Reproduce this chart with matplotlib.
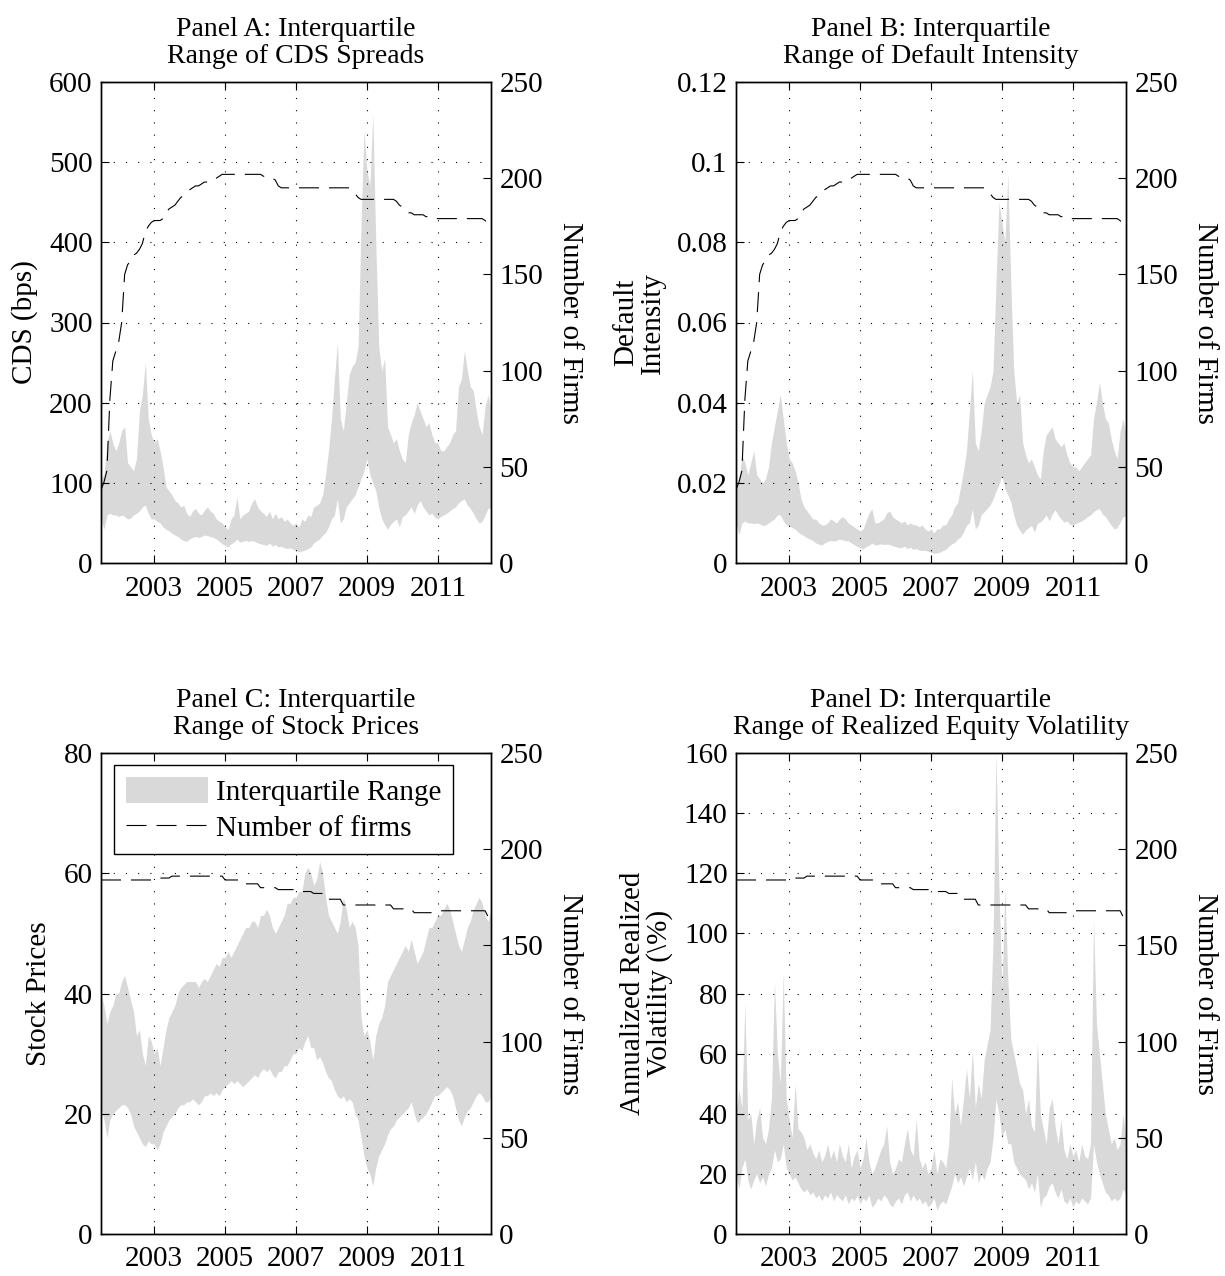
import numpy as np
import matplotlib
matplotlib.use('Agg')
import matplotlib.pyplot as plt

plt.rcParams['font.family'] = ['Liberation Serif', 'DejaVu Serif']
plt.rcParams['font.size'] = 21

# monthly observations, Jul 2001 .. Jul 2012
dates = 2001.5 + np.arange(133) / 12.0

# Panel A: CDS spreads (bps)
cds_q75 = [105, 110, 150, 165, 150, 140,
           150, 165, 170, 125, 120, 115, 130, 190, 210, 250, 180, 160,
           150, 155, 140, 120, 95, 90, 85, 78, 75, 70, 72, 62,
           58, 65, 68, 62, 60, 66, 70, 65, 62, 55, 52, 50,
           45, 42, 55, 60, 82, 55, 60, 62, 65, 75, 80, 70,
           65, 62, 58, 65, 55, 62, 55, 58, 52, 55, 50, 47,
           50, 45, 55, 52, 60, 58, 70, 72, 75, 85, 110, 140,
           180, 230, 275, 180, 165, 200, 235, 245, 250, 270, 420, 540,
           490, 470, 560, 400, 270, 240, 255, 170, 160, 150, 155, 140,
           130, 125, 160, 175, 185, 200, 190, 180, 170, 175, 160, 150,
           150, 140, 140, 145, 150, 160, 165, 220, 230, 265, 240, 220,
           215, 190, 170, 160, 195, 210, 190]
cds_q25 = [55, 42, 60, 62, 60, 60,
           58, 60, 58, 55, 56, 60, 62, 65, 70, 72, 62, 55,
           55, 52, 50, 45, 42, 40, 37, 35, 33, 30, 28, 27,
           30, 32, 33, 32, 33, 35, 34, 33, 32, 30, 27, 24,
           22, 20, 24, 26, 30, 26, 27, 28, 27, 28, 27, 25,
           24, 23, 22, 25, 21, 23, 20, 21, 19, 18, 19, 17,
           16, 14, 15, 16, 18, 20, 25, 28, 30, 35, 38, 45,
           55, 60, 80, 50, 55, 70, 75, 80, 85, 95, 105, 115,
           130, 110, 100, 90, 70, 55, 48, 42, 48, 52, 55, 45,
           58, 60, 65, 70, 62, 72, 78, 70, 65, 60, 62, 57,
           55, 58, 60, 62, 65, 68, 70, 75, 78, 80, 72, 68,
           62, 55, 50, 52, 60, 68, 68]

# Panel B: default intensity
di_q75 = [0.018, 0.020, 0.027, 0.025, 0.022, 0.025,
          0.028, 0.022, 0.021, 0.020, 0.021, 0.024, 0.030, 0.034, 0.038, 0.042, 0.036, 0.030,
          0.026, 0.025, 0.023, 0.020, 0.016, 0.014, 0.013, 0.012, 0.011, 0.011, 0.010, 0.0095,
          0.0095, 0.010, 0.011, 0.0105, 0.010, 0.011, 0.0115, 0.011, 0.010, 0.0095, 0.009, 0.0085,
          0.008, 0.0085, 0.0105, 0.0125, 0.0135, 0.010, 0.010, 0.0105, 0.011, 0.0125, 0.013, 0.0115,
          0.011, 0.0105, 0.010, 0.0105, 0.0095, 0.010, 0.0095, 0.0095, 0.009, 0.0095, 0.0085, 0.008,
          0.0085, 0.0075, 0.0085, 0.0085, 0.0095, 0.0095, 0.011, 0.012, 0.014, 0.015, 0.019, 0.023,
          0.028, 0.038, 0.048, 0.030, 0.028, 0.033, 0.040, 0.042, 0.044, 0.048, 0.070, 0.090,
          0.085, 0.080, 0.097, 0.070, 0.048, 0.040, 0.042, 0.030, 0.027, 0.025, 0.026, 0.024,
          0.022, 0.021, 0.028, 0.032, 0.033, 0.034, 0.031, 0.030, 0.029, 0.030, 0.027, 0.025,
          0.024, 0.024, 0.023, 0.024, 0.025, 0.026, 0.027, 0.036, 0.040, 0.045, 0.040, 0.036,
          0.035, 0.031, 0.028, 0.026, 0.033, 0.036, 0.032]
di_q25 = [0.010, 0.007, 0.010, 0.0105, 0.010, 0.010,
          0.0098, 0.010, 0.0098, 0.0093, 0.0095, 0.010, 0.0105, 0.011, 0.012, 0.012, 0.0105, 0.0095,
          0.0093, 0.0088, 0.0085, 0.0077, 0.0072, 0.0068, 0.0063, 0.006, 0.0056, 0.005, 0.0047, 0.0045,
          0.005, 0.0054, 0.0056, 0.0055, 0.0056, 0.006, 0.0058, 0.0056, 0.0055, 0.005, 0.0046, 0.0041,
          0.0038, 0.0035, 0.0041, 0.0044, 0.005, 0.0045, 0.0046, 0.0048, 0.0046, 0.0047, 0.0046, 0.0043,
          0.0041, 0.0039, 0.0038, 0.0042, 0.0036, 0.0039, 0.0034, 0.0036, 0.0032, 0.0031, 0.0032, 0.0029,
          0.0027, 0.0024, 0.0025, 0.0027, 0.0031, 0.0034, 0.0042, 0.0048, 0.0051, 0.006, 0.0065, 0.0077,
          0.0094, 0.010, 0.0135, 0.0085, 0.0094, 0.012, 0.0128, 0.0136, 0.0145, 0.016, 0.018, 0.0195,
          0.022, 0.0185, 0.017, 0.0153, 0.012, 0.0094, 0.0082, 0.0072, 0.0082, 0.0088, 0.0094, 0.0077,
          0.0099, 0.0102, 0.011, 0.012, 0.0105, 0.0122, 0.0133, 0.012, 0.011, 0.0102, 0.0105, 0.0097,
          0.0094, 0.0099, 0.0102, 0.0105, 0.011, 0.0116, 0.012, 0.0128, 0.0133, 0.0136, 0.0122, 0.0116,
          0.0105, 0.0094, 0.0085, 0.0088, 0.0102, 0.0116, 0.0116]

# Panel C: stock prices
px_q75 = [40, 38, 35, 37, 38, 40,
          40, 42, 43, 41, 39, 37, 33, 34, 30, 28, 33, 32,
          30, 31, 28, 31, 34, 36, 37, 38, 40, 41, 41.5, 42,
          42, 42, 42, 41, 42, 42.5, 42, 43, 44, 45, 44.5, 46,
          46, 47, 46, 47, 48, 49, 50, 51, 51, 52, 52, 51,
          53, 53, 54, 53, 51, 50, 51, 52, 53, 55, 55, 56,
          56, 57, 57, 60, 61, 60, 58, 59, 62, 60, 56, 53,
          52, 51, 50, 52, 56, 54, 51, 52, 51, 48, 36, 33,
          34, 32, 29, 33, 35, 36, 38, 42, 43, 44, 45, 46,
          47, 48, 47, 49, 47, 45, 46, 47, 49, 51, 51, 52,
          53, 53, 54, 55, 54, 52, 50, 48, 47, 49, 51, 52,
          54, 55, 56, 55, 53, 52, 54]
px_q25 = [21, 19, 16, 19, 20, 20.5,
          21, 21.5, 21.5, 21, 20, 18, 17, 16, 15, 14.5, 15.5, 15,
          15, 14, 15, 17, 18, 19, 19.5, 20, 21, 21.5, 21.5, 22,
          22, 22.5, 22, 21.5, 22, 23, 23, 23.5, 23, 23.5, 23, 24,
          24.5, 25, 25.5, 25, 25.5, 25, 24.5, 25, 25.5, 26, 26.5, 26,
          27, 27.5, 27, 27.5, 26.5, 26, 27, 27, 28, 28, 29, 30,
          30, 31, 30.5, 32, 33, 31, 31, 29, 29.5, 28.5, 27, 26,
          25.5, 24, 23, 22.5, 23, 22, 22.5, 22, 20, 19, 16, 13,
          11, 10, 8, 11, 13, 14, 15, 16.5, 17.5, 18, 19, 19.5,
          20, 20.5, 21, 22, 20, 18.5, 19, 19.5, 20, 21, 22, 23,
          23, 23.5, 24, 24.5, 24, 23, 21, 19, 18, 19.5, 20.5, 21,
          22, 23, 23.5, 23, 22, 22, 23]

# Panel D: annualized realized volatility (%)
vol_q75 = [40, 48, 42, 77, 38, 40,
           30, 38, 42, 32, 30, 35, 45, 84, 60, 50, 87, 45,
           38, 32, 50, 35, 34, 32, 28, 30, 27, 25, 28, 24,
           26, 30, 25, 28, 24, 30, 26, 24, 30, 22, 26, 28,
           22, 25, 32, 24, 20, 22, 25, 28, 30, 36, 24, 20,
           22, 25, 24, 30, 35, 28, 26, 38, 25, 22, 24, 20,
           22, 28, 20, 25, 24, 22, 30, 52, 40, 44, 36, 45,
           55, 45, 61, 42, 50, 45, 58, 63, 68, 98, 160, 115,
           82, 115, 85, 65, 60, 55, 50, 48, 40, 45, 36, 34,
           64, 40, 35, 30, 42, 45, 36, 30, 38, 28, 25, 30,
           26, 28, 24, 30, 26, 25, 30, 105, 70, 60, 50, 40,
           35, 30, 32, 28, 30, 40, 32]
vol_q25 = [20, 15, 22, 25, 18, 15,
           18, 20, 17, 19, 16, 20, 22, 28, 24, 25, 30, 22,
           20, 18, 19, 17, 15, 14, 15, 13, 14, 12, 13, 11,
           13, 12, 14, 11, 13, 12, 11, 13, 10, 12, 11, 13,
           10, 12, 11, 13, 9, 10, 12, 11, 13, 12, 10, 9,
           11, 12, 10, 13, 14, 11, 13, 11, 12, 10, 11, 9,
           10, 12, 8, 10, 11, 10, 13, 16, 20, 17, 19, 16,
           19, 22, 18, 24, 17, 20, 18, 22, 24, 32, 45, 40,
           32, 35, 30, 30, 24, 22, 20, 19, 18, 15, 17, 14,
           20, 9, 12, 13, 16, 17, 14, 12, 15, 11, 10, 12,
           9, 11, 10, 12, 11, 10, 12, 30, 24, 20, 17, 14,
           13, 11, 12, 11, 12, 15, 13]

# number of firms in the sample
firms_cds = ([38, 42, 48, 85, 105, 110]
             + [115, 125, 150, 155, 157, 160, 161, 163, 166, 172, 175, 177]
             + [178, 178, 178, 179, 182, 184, 185, 186, 188, 190, 191, 193]
             + [194, 195, 196, 196, 197, 198, 198, 199, 199, 200, 201, 202]
             + [202] * 12
             + [202, 201, 201, 200, 200, 199, 196, 195, 195, 195, 195, 195]
             + [195] * 12
             + [195] * 7 + [194, 192, 190, 189, 189]
             + [189] * 10 + [188, 186]
             + [185, 183, 182, 182, 181, 181, 181, 181, 180, 180, 179, 179]
             + [179] * 12
             + [179, 179, 179, 179, 178, 176, 175])
firms_eq = ([184] * 6 + [184] * 12
            + [185] * 6 + [186] * 6
            + [186] * 12
            + [184] * 6 + [182] * 6
            + [180] * 6 + [179] * 6
            + [178] * 6 + [177] * 4 + [174] * 2
            + [174] * 4 + [171] * 8
            + [171] * 9 + [169] * 3
            + [169] * 4 + [167] * 8
            + [168] * 12
            + [168] * 5 + [165] * 2)

year_ticks = [2003, 2005, 2007, 2009, 2011]
firm_ticks = [0, 50, 100, 150, 200, 250]

fig = plt.figure(figsize=(12.25, 12.76), dpi=100)


def panel(rect, lo, hi, firms, yticks, yticklabels, ylabel, title):
    ax = fig.add_axes(rect)
    fill = ax.fill_between(dates, lo, hi, color='#d9d9d9', linewidth=0,
                           label='Interquartile Range', zorder=1)
    ax.set_xlim(dates[0], dates[-1])
    ax.set_ylim(yticks[0], yticks[-1])
    ax.set_xticks(year_ticks)
    ax.set_xticklabels([str(y) for y in year_ticks])
    ax.set_yticks(yticks)
    ax.set_yticklabels(yticklabels)
    ax.grid(True, color='k', linestyle=(0, (1, 10)), linewidth=0.8)
    ax.set_axisbelow(False)
    ax.tick_params(direction='in', length=6, width=0.8, top=True, right=False, pad=6)
    ax.tick_params(axis='x', pad=9)
    ax.set_ylabel(ylabel, linespacing=1.0, labelpad=8)
    ax.set_title(title, fontsize=20, linespacing=1.1, pad=14)

    ax2 = ax.twinx()
    line, = ax2.plot(dates, firms, color='k', linewidth=0.8, dashes=(18, 9),
                     label='Number of firms')
    ax2.set_ylim(0, 250)
    ax2.set_yticks(firm_ticks)
    ax2.tick_params(direction='in', length=6, width=0.8, pad=6)
    ax2.set_ylabel('Number of Firms', rotation=270, va='bottom', labelpad=10)
    for a in (ax, ax2):
        for s in a.spines.values():
            s.set_linewidth(1.0)
    return ax, ax2, fill, line


w, h = 390 / 1225, 481 / 1276
left1, left2 = 101 / 1225, 736 / 1225
bot1, bot2 = 1 - 563 / 1276, 1 - 1234 / 1276

panel([left1, bot1, w, h], cds_q25, cds_q75, firms_cds,
      [0, 100, 200, 300, 400, 500, 600],
      ['0', '100', '200', '300', '400', '500', '600'],
      'CDS (bps)', 'Panel A: Interquartile\nRange of CDS Spreads')

panel([left2, bot1, w, h], di_q25, di_q75, firms_cds,
      [0, 0.02, 0.04, 0.06, 0.08, 0.1, 0.12],
      ['0', '0.02', '0.04', '0.06', '0.08', '0.1', '0.12'],
      'Default\nIntensity', 'Panel B: Interquartile\nRange of Default Intensity')

axc, axc2, fill_c, line_c = panel(
    [left1, bot2, w, h], px_q25, px_q75, firms_eq,
    [0, 20, 40, 60, 80], ['0', '20', '40', '60', '80'],
    'Stock Prices', 'Panel C: Interquartile\nRange of Stock Prices')

panel([left2, bot2, w, h], vol_q25, vol_q75, firms_eq,
      [0, 20, 40, 60, 80, 100, 120, 140, 160],
      ['0', '20', '40', '60', '80', '100', '120', '140', '160'],
      'Annualized Realized\nVolatility (\\%)',
      'Panel D: Interquartile\nRange of Realized Equity Volatility')

leg = axc2.legend([fill_c, line_c], ['Interquartile Range', 'Number of firms'],
                  loc='upper left', bbox_to_anchor=(0.034, 0.975), borderaxespad=0,
                  fancybox=False, edgecolor='k', framealpha=1,
                  handlelength=2.8, handleheight=1.0, handletextpad=0.3,
                  labelspacing=0.25, borderpad=0.4)
leg.get_frame().set_linewidth(1.0)

fig.savefig('out.png', dpi=100)
